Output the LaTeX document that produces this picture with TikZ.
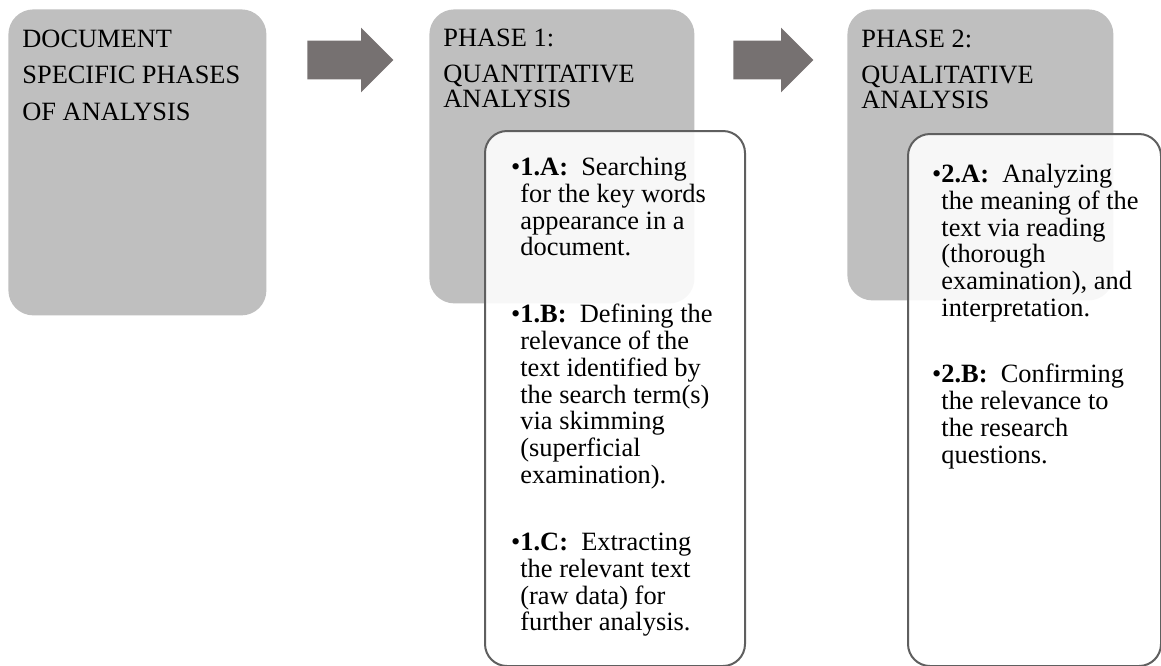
\documentclass[tikz,border=0pt]{standalone}
\usepackage{fontspec}
\setmainfont{Liberation Serif}
\usepackage{xcolor}
\usetikzlibrary{positioning,shapes.arrows}

\definecolor{phasegray}{HTML}{BFBFBF}
\definecolor{arrowgray}{HTML}{767171}
\definecolor{framegray}{HTML}{5F5F5F}

\begin{document}
\begin{tikzpicture}[x=0.5pt, y=-0.5pt,
  phase/.style={fill=phasegray, rounded corners=12.5pt, anchor=north west, inner sep=0pt},
  stepsbox/.style={draw=framegray, line width=1pt, fill=white, fill opacity=0.88, rounded corners=11pt, anchor=north west, inner sep=0pt},
  flow/.style={single arrow, fill=arrowgray, anchor=tail, inner xsep=0pt, inner ysep=9.5pt, single arrow head extend=6.5pt, single arrow tip angle=90},
  title/.style={anchor=north west, align=left, inner sep=0pt, font=\fontsize{13.2pt}{18.25pt}\selectfont},
  phasetitle/.style={title, font=\fontsize{13.2pt}{12.5pt}\selectfont},
  item/.style={anchor=north west, align=left, inner sep=0pt, font=\fontsize{13.2pt}{13.35pt}\selectfont}]
\useasboundingbox (0,0) rectangle (1161,665);

% phase boxes
\node[phase, minimum width=129pt, minimum height=153pt] (doc) at (8,9) {};
\node[phase, minimum width=132.5pt, minimum height=147pt] (p1) at (429,9) {};
\node[phase, minimum width=133pt, minimum height=145.5pt] (p2) at (847,9) {};

% arrows between phases
\node[flow, minimum height=43pt] (a1) at (307,60) {};
\node[flow, minimum height=40pt] (a2) at (733,60) {};

\node[title] (doct) at (22,29.5) {DOCUMENT\\SPECIFIC PHASES\\OF ANALYSIS};
\node[phasetitle] (p1t) at (443,29) {PHASE 1:\\[5.5pt]QUANTITATIVE\\ANALYSIS};
\node[phasetitle] (p2t) at (861,30) {PHASE 2:\\[5.5pt]QUALITATIVE\\ANALYSIS};

% steps of each phase
\node[stepsbox, minimum width=130pt, minimum height=267.5pt] (s1) at (484,130) {};
\node[stepsbox, minimum width=126.5pt, minimum height=266pt] (s2) at (907,133) {};

\node[item] (s1a) at (520,157) {\llap{\textbullet}\textbf{1.A:}\ \ Searching\\for the key words\\appearance in a\\document.};
\node[item] (s1b) at (520,304) {\llap{\textbullet}\textbf{1.B:}\ \ Defining the\\relevance of the\\text identified by\\the search term(s)\\via skimming\\(superficial\\examination).};
\node[item] (s1c) at (520,533) {\llap{\textbullet}\textbf{1.C:}\ \ Extracting\\the relevant text\\(raw data) for\\further analysis.};

\node[item] (s2a) at (941,164) {\llap{\textbullet}\textbf{2.A:}\ \ Analyzing\\the meaning of the\\text via reading\\(thorough\\examination), and\\interpretation.};
\node[item] (s2b) at (941,364) {\llap{\textbullet}\textbf{2.B:}\ \ Confirming\\the relevance to\\the research\\questions.};
\end{tikzpicture}
\end{document}
